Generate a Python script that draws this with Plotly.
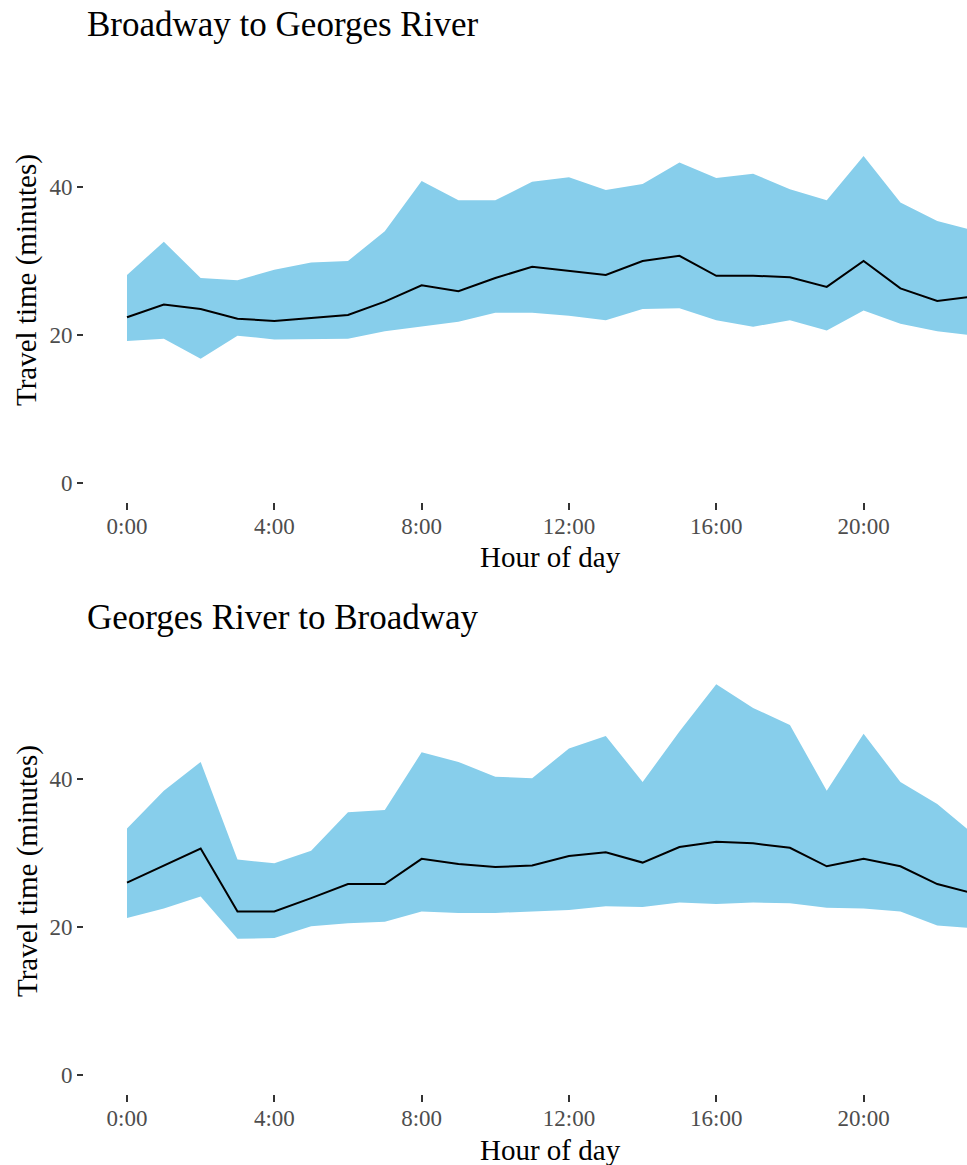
import plotly.graph_objects as go

# hour of day 0..23
hours = list(range(24))

# Broadway -> Georges River (minutes)
bg_low = [19.2, 19.5, 16.8, 19.9, 19.4, 19.4, 19.5, 20.5, 21.1, 21.8, 23.0, 23.0,
          22.6, 22.0, 23.5, 23.6, 22.0, 21.1, 22.0, 20.6, 23.3, 21.5, 20.5, 19.9]
bg_mid = [22.4, 24.1, 23.5, 22.2, 21.9, 22.3, 22.7, 24.5, 26.7, 25.9, 27.7, 29.2,
          28.6, 28.1, 30.0, 30.7, 28.0, 28.0, 27.8, 26.5, 30.0, 26.3, 24.6, 25.2]
bg_high = [28.1, 32.6, 27.7, 27.4, 28.8, 29.8, 30.0, 34.0, 40.8, 38.2, 38.2, 40.7,
           41.3, 39.6, 40.4, 43.3, 41.2, 41.8, 39.7, 38.2, 44.2, 37.9, 35.4, 34.1]

# Georges River -> Broadway (minutes)
gb_low = [21.2, 22.5, 24.1, 18.4, 18.5, 20.1, 20.5, 20.7, 22.1, 21.9, 21.9, 22.1,
          22.3, 22.8, 22.7, 23.3, 23.1, 23.3, 23.2, 22.6, 22.5, 22.1, 20.2, 19.8]
gb_mid = [26.0, 28.3, 30.6, 22.1, 22.1, 23.9, 25.8, 25.8, 29.2, 28.5, 28.1, 28.3,
          29.6, 30.1, 28.7, 30.8, 31.5, 31.3, 30.7, 28.2, 29.2, 28.2, 25.8, 24.5]
gb_high = [33.3, 38.4, 42.3, 29.1, 28.6, 30.3, 35.5, 35.8, 43.6, 42.3, 40.3, 40.1,
           44.1, 45.8, 39.6, 46.4, 52.8, 49.6, 47.3, 38.4, 46.1, 39.6, 36.6, 32.5]

x_tickvals = [0, 4, 8, 12, 16, 20]
x_ticktext = ["0:00", "4:00", "8:00", "12:00", "16:00", "20:00"]
y_tickvals = [0, 20, 40]

titles = ["Broadway to Georges River", "Georges River to Broadway"]

W, H = 967, 1165
FONT = "Liberation Serif"
RIBBON = "#87CEEB"

fig = go.Figure()

panels = [(bg_low, bg_mid, bg_high), (gb_low, gb_mid, gb_high)]
for i, (low, mid, high) in enumerate(panels):
    xa = "x" if i == 0 else "x2"
    ya = "y" if i == 0 else "y2"
    fig.add_trace(go.Scatter(x=hours, y=low, mode="lines", line=dict(width=0, color=RIBBON),
                             xaxis=xa, yaxis=ya, showlegend=False, hoverinfo="skip"))
    fig.add_trace(go.Scatter(x=hours, y=high, mode="lines", line=dict(width=0, color=RIBBON),
                             fill="tonexty", fillcolor=RIBBON,
                             xaxis=xa, yaxis=ya, showlegend=False, hoverinfo="skip"))
    fig.add_trace(go.Scatter(x=hours, y=mid, mode="lines", line=dict(width=2, color="black"),
                             xaxis=xa, yaxis=ya, showlegend=False))


def py(p):
    # pixel row -> paper fraction
    return (H - p) / H


L = 84
PW = W - L


def px(p):
    return (p - L) / PW


xaxis_style = dict(
    range=[-1.1675, 22.808], tickvals=x_tickvals, ticktext=x_ticktext,
    showgrid=False, zeroline=False, showline=False,
    ticks="outside", ticklen=7, tickwidth=1.5, tickcolor="#333333", ticklabelstandoff=-4,
    tickfont=dict(family=FONT, size=23, color="#4d4d4d"), automargin=False,
)
yaxis_style = dict(
    range=[-2.6, 55.4], tickvals=y_tickvals,
    showgrid=False, zeroline=False, showline=False,
    ticks="outside", ticklen=6, tickwidth=1.5, tickcolor="#333333",
    tickfont=dict(family=FONT, size=23, color="#4d4d4d"), automargin=False,
)

fig.update_layout(
    width=W, height=H,
    margin=dict(l=L, r=0, t=0, b=0),
    paper_bgcolor="white", plot_bgcolor="white",
    xaxis=dict(domain=[0, 1], anchor="y", **xaxis_style),
    yaxis=dict(domain=[py(502.2), py(73.0)], anchor="x", **yaxis_style),
    xaxis2=dict(domain=[0, 1], anchor="y2", **xaxis_style),
    yaxis2=dict(domain=[py(1094.2), py(665.0)], anchor="x2", **yaxis_style),
)

annotations = []
for title, ty, xt_y, yt_y in [(titles[0], 25, 557, 280), (titles[1], 617, 1150, 871)]:
    annotations.append(dict(text=title, xref="paper", yref="paper", x=px(85), y=py(ty),
                            xanchor="left", yanchor="middle", showarrow=False,
                            font=dict(family=FONT, size=35, color="black")))
    annotations.append(dict(text="Hour of day", xref="paper", yref="paper", x=px(550), y=py(xt_y),
                            xanchor="center", yanchor="middle", showarrow=False,
                            font=dict(family=FONT, size=29, color="black")))
    annotations.append(dict(text="Travel time (minutes)", xref="paper", yref="paper", x=px(27), y=py(yt_y),
                            xanchor="center", yanchor="middle", textangle=-90, showarrow=False,
                            font=dict(family=FONT, size=29, color="black")))
fig.update_layout(annotations=annotations)

fig.write_html("out.html", config={"displayModeBar": False},
               post_script="document.body.style.margin='0';document.body.style.overflow='hidden';")
